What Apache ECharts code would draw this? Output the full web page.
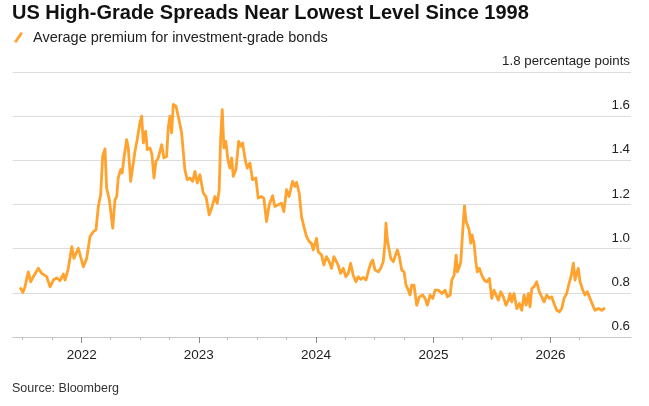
<!DOCTYPE html>
<html>
<head>
<meta charset="utf-8">
<script src="https://cdn.jsdelivr.net/npm/echarts@6/dist/echarts.min.js"></script>
<style>
  html, body { margin: 0; padding: 0; background: #fff; }
  #chart { width: 649px; height: 406px; }
</style>
</head>
<body>
<div id="chart"></div>
<script>
// position of each point as a decimal year
var yearPos = [
  2021.474, 2021.497, 2021.516, 2021.544, 2021.565, 2021.587, 2021.630, 2021.659, 2021.701, 2021.730,
  2021.758, 2021.787, 2021.815, 2021.843, 2021.858, 2021.886, 2021.915, 2021.934, 2021.971, 2022.014,
  2022.043, 2022.071, 2022.099, 2022.122, 2022.142, 2022.162, 2022.179, 2022.199, 2022.213, 2022.236,
  2022.265, 2022.284, 2022.299, 2022.312, 2022.333, 2022.346, 2022.361, 2022.384, 2022.398, 2022.418,
  2022.435, 2022.455, 2022.474, 2022.497, 2022.512, 2022.526, 2022.546, 2022.560, 2022.583, 2022.600,
  2022.617, 2022.634, 2022.654, 2022.683, 2022.702, 2022.725, 2022.739, 2022.753, 2022.768, 2022.782,
  2022.805, 2022.824, 2022.853, 2022.881, 2022.901, 2022.924, 2022.947, 2022.967, 2022.986, 2023.009,
  2023.038, 2023.061, 2023.089, 2023.109, 2023.137, 2023.157, 2023.174, 2023.186, 2023.200, 2023.214,
  2023.231, 2023.248, 2023.265, 2023.280, 2023.294, 2023.317, 2023.340, 2023.357, 2023.374, 2023.393,
  2023.413, 2023.436, 2023.459, 2023.487, 2023.507, 2023.536, 2023.555, 2023.578, 2023.601, 2023.630,
  2023.649, 2023.677, 2023.706, 2023.726, 2023.749, 2023.771, 2023.800, 2023.820, 2023.834, 2023.857,
  2023.877, 2023.897, 2023.920, 2023.942, 2023.962, 2023.976, 2024.005, 2024.019, 2024.048, 2024.067,
  2024.090, 2024.113, 2024.133, 2024.153, 2024.170, 2024.189, 2024.210, 2024.232, 2024.255, 2024.275,
  2024.295, 2024.317, 2024.340, 2024.360, 2024.381, 2024.403, 2024.426, 2024.445, 2024.466, 2024.483,
  2024.503, 2024.531, 2024.551, 2024.573, 2024.588, 2024.596, 2024.608, 2024.622, 2024.637, 2024.659,
  2024.682, 2024.693, 2024.710, 2024.730, 2024.750, 2024.767, 2024.787, 2024.801, 2024.816, 2024.835,
  2024.858, 2024.881, 2024.910, 2024.929, 2024.949, 2024.972, 2024.995, 2025.015, 2025.043, 2025.072,
  2025.100, 2025.119, 2025.143, 2025.157, 2025.177, 2025.194, 2025.205, 2025.222, 2025.234, 2025.251,
  2025.265, 2025.279, 2025.290, 2025.305, 2025.319, 2025.330, 2025.347, 2025.362, 2025.375, 2025.392,
  2025.413, 2025.433, 2025.456, 2025.478, 2025.498, 2025.518, 2025.535, 2025.555, 2025.575, 2025.597,
  2025.620, 2025.640, 2025.654, 2025.669, 2025.689, 2025.712, 2025.734, 2025.754, 2025.774, 2025.791,
  2025.811, 2025.825, 2025.840, 2025.859, 2025.882, 2025.904, 2025.925, 2025.945, 2025.968, 2025.990,
  2026.010, 2026.030, 2026.053, 2026.075, 2026.096, 2026.115, 2026.138, 2026.158, 2026.175, 2026.195,
  2026.209, 2026.224, 2026.237, 2026.252, 2026.275, 2026.294, 2026.314, 2026.337, 2026.360, 2026.380,
  2026.408, 2026.437, 2026.465
];

// average premium, percentage points
var spread = [
  0.825, 0.802, 0.827, 0.895, 0.850, 0.873, 0.911, 0.888, 0.873, 0.827,
  0.858, 0.868, 0.855, 0.885, 0.858, 0.911, 1.009, 0.956, 1.002, 0.918,
  0.956, 1.055, 1.077, 1.085, 1.191, 1.244, 1.418, 1.452, 1.274, 1.221,
  1.093, 1.221, 1.236, 1.320, 1.358, 1.343, 1.411, 1.494, 1.456, 1.305,
  1.305, 1.441, 1.494, 1.570, 1.600, 1.479, 1.532, 1.449, 1.456, 1.426,
  1.320, 1.395, 1.411, 1.471, 1.411, 1.418, 1.547, 1.600, 1.525, 1.653,
  1.645, 1.600, 1.525, 1.358, 1.312, 1.320, 1.305, 1.350, 1.297, 1.335,
  1.252, 1.236, 1.153, 1.184, 1.236, 1.206, 1.267, 1.494, 1.630, 1.456,
  1.486, 1.403, 1.365, 1.411, 1.327, 1.358, 1.486, 1.464, 1.479, 1.411,
  1.365, 1.388, 1.312, 1.320, 1.229, 1.236, 1.229, 1.123, 1.199, 1.240,
  1.191, 1.199, 1.206, 1.168, 1.267, 1.236, 1.305, 1.282, 1.300, 1.252,
  1.145, 1.100, 1.055, 1.032, 1.024, 0.994, 1.047, 0.986, 0.971, 0.926,
  0.964, 0.941, 0.911, 0.964, 0.971, 0.926, 0.888, 0.911, 0.873, 0.888,
  0.934, 0.880, 0.850, 0.873, 0.861, 0.870, 0.858, 0.895, 0.934, 0.949,
  0.903, 0.895, 0.911, 0.941, 1.024, 1.115, 1.039, 1.032, 0.956, 0.941,
  0.979, 0.994, 0.964, 0.903, 0.895, 0.835, 0.812, 0.790, 0.835, 0.835,
  0.744, 0.782, 0.790, 0.775, 0.744, 0.790, 0.775, 0.812, 0.812, 0.797,
  0.812, 0.782, 0.790, 0.858, 0.880, 0.971, 0.895, 0.918, 0.941, 1.085,
  1.194, 1.123, 1.108, 1.085, 1.024, 1.062, 1.024, 0.941, 0.895, 0.911,
  0.880, 0.858, 0.850, 0.865, 0.775, 0.812, 0.790, 0.767, 0.805, 0.782,
  0.744, 0.767, 0.797, 0.759, 0.797, 0.729, 0.752, 0.721, 0.790, 0.744,
  0.797, 0.737, 0.820, 0.827, 0.850, 0.805, 0.782, 0.759, 0.790, 0.775,
  0.782, 0.752, 0.721, 0.714, 0.729, 0.775, 0.797, 0.843, 0.873, 0.934,
  0.858, 0.888, 0.911, 0.850, 0.812, 0.790, 0.805, 0.775, 0.744, 0.721,
  0.729, 0.721, 0.732
];

var quarterTicks = [
  '2021-07-01', '2021-10-01',
  '2022-04-01', '2022-07-01', '2022-10-01',
  '2023-04-01', '2023-07-01', '2023-10-01',
  '2024-04-01', '2024-07-01', '2024-10-01',
  '2025-04-01', '2025-07-01', '2025-10-01',
  '2026-04-01'
];
var yearTicks = ['2022-01-01', '2023-01-01', '2024-01-01', '2025-01-01', '2026-01-01'];
var yearLabels = ['2022', '2023', '2024', '2025', '2026'];

var seriesName = 'Average premium for investment-grade bonds';
var orange = '#ffa22e';
var font = '"Liberation Sans", Arial, sans-serif';

function yearToTime(y) {
  var yr = Math.floor(y);
  var a = Date.UTC(yr, 0, 1), b = Date.UTC(yr + 1, 0, 1);
  return a + (y - yr) * (b - a);
}
function dayToTime(s) {
  var p = s.split('-').map(Number);
  return Date.UTC(p[0], p[1] - 1, p[2]);
}

var points = yearPos.map(function (y, i) { return [yearToTime(y), spread[i]]; });
var xMin = yearToTime(2021.411);
var xMax = yearToTime(2026.687);
var yearTimes = yearTicks.map(dayToTime);

var myChart = echarts.init(document.getElementById('chart'), null, { renderer: 'canvas' });

var option = {
  animation: false,
  textStyle: { fontFamily: font },
  title: {
    text: 'US High-Grade Spreads Near Lowest Level Since 1998',
    left: 12,
    top: 3,
    padding: 0,
    textStyle: { fontSize: 20, fontWeight: 'bold', color: '#111', fontFamily: font }
  },
  legend: {
    data: [seriesName],
    left: 14,
    top: 30,
    padding: 0,
    icon: 'path://M0,10 L7,0 L9.5,1.6 L2.5,11.6 Z',
    itemWidth: 9,
    itemHeight: 11,
    itemGap: 8,
    textStyle: { fontSize: 14.5, color: '#222', fontFamily: font, padding: [0, 0, 0, 5] }
  },
  grid: {
    left: 12.7,
    right: 18,
    top: 72,
    bottom: 69
  },
  xAxis: [
    {
      type: 'value',
      min: xMin,
      max: xMax,
      axisLine: { show: true, lineStyle: { color: '#c8c8c8', width: 1 } },
      axisTick: {
        show: true,
        length: 3,
        customValues: quarterTicks.map(dayToTime),
        lineStyle: { color: '#bdbdbd' }
      },
      axisLabel: { show: false },
      splitLine: { show: false }
    },
    {
      type: 'value',
      min: xMin,
      max: xMax,
      position: 'bottom',
      axisLine: { show: false },
      axisTick: {
        show: true,
        length: 6,
        customValues: yearTimes,
        lineStyle: { color: '#888' }
      },
      axisLabel: {
        show: true,
        customValues: yearTimes,
        margin: 11,
        fontSize: 13.5,
        color: '#222',
        fontFamily: font,
        formatter: function (v) {
          var i = yearTimes.indexOf(v);
          return i >= 0 ? yearLabels[i] : '';
        }
      },
      splitLine: { show: false }
    }
  ],
  yAxis: {
    type: 'value',
    position: 'right',
    min: 0.6,
    max: 1.8,
    interval: 0.2,
    axisLine: { show: false },
    axisTick: { show: false },
    splitLine: { show: true, lineStyle: { color: '#dcdcdc', width: 1 } },
    axisLabel: {
      inside: true,
      margin: 1,
      verticalAlign: 'bottom',
      padding: [0, 0, 4, 0],
      fontSize: 13.3,
      color: '#222',
      fontFamily: font,
      formatter: function (v) {
        var s = v.toFixed(1);
        return Math.abs(v - 1.8) < 1e-6 ? s + ' percentage points' : s;
      }
    }
  },
  graphic: [
    {
      type: 'text',
      left: 12,
      top: 382,
      style: { text: 'Source: Bloomberg', fontSize: 12.5, fill: '#333', fontFamily: font }
    }
  ],
  series: [
    {
      name: seriesName,
      type: 'line',
      xAxisIndex: 0,
      data: points,
      showSymbol: false,
      symbol: 'none',
      smooth: false,
      color: orange,
      lineStyle: { color: orange, width: 2.8, join: 'round' }
    }
  ]
};

myChart.setOption(option);
</script>
</body>
</html>
